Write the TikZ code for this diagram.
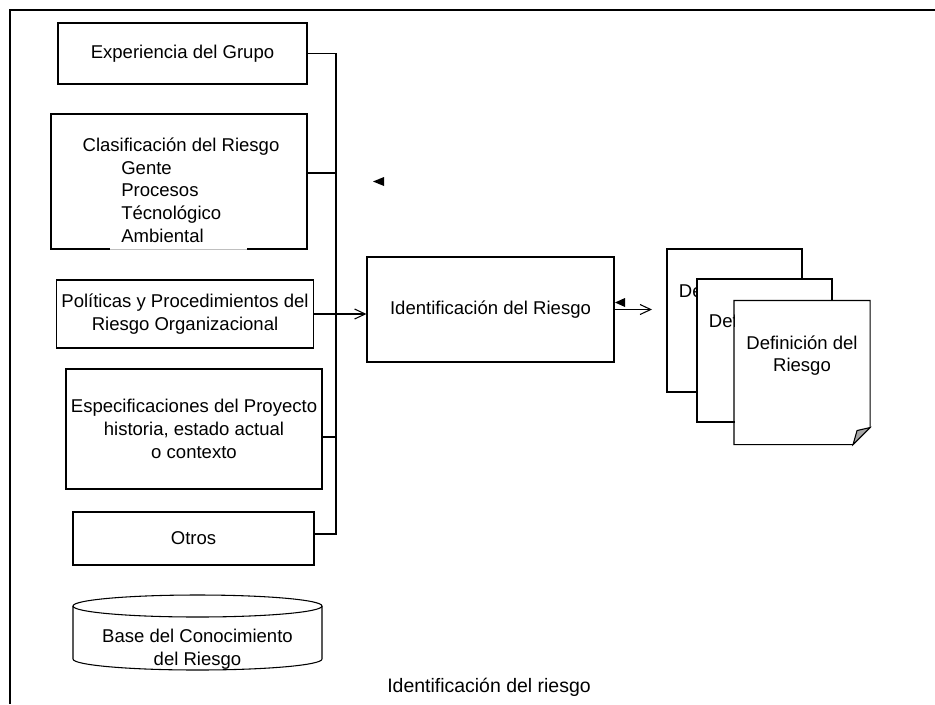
\documentclass[tikz,border=0pt]{standalone}
\usepackage{fontspec}
\setmainfont{Liberation Sans}
\usetikzlibrary{arrows.meta, positioning}
\newdimen\upx \upx=0.75pt
\tikzstyle{source} = [rectangle, draw=black, line width=0.8pt, align=center]
\tikzstyle{process} = [rectangle, draw=black, line width=0.8pt, align=center, minimum width=247*\upx, minimum height=105*\upx]
\tikzstyle{docpage} = [rectangle, draw=black, fill=white, line width=0.8pt, minimum width=135*\upx, minimum height=143*\upx]
\tikzstyle{wire} = [line width=0.8pt]
\tikzstyle{arrow} = [line width=0.8pt, -{Straight Barb[length=8pt,width=7.5pt]}]

\begin{document}
\begin{tikzpicture}[x=0.75pt, y=-0.75pt, font=\fontsize{13.9}{17}\selectfont]
\useasboundingbox (0,0) rectangle (935,704);
% frame, only top and left edge visible
\draw[line width=1.3pt] (935,10) -- (10,10) -- (10,704);

\node (exper) [source, minimum width=249*\upx, minimum height=61*\upx] at (182.5,53.5) {Experiencia del Grupo};

\node (clasif) [source, minimum width=256*\upx, minimum height=135*\upx] at (179,181.5) {};
\node (clasiftxt) [align=left, inner sep=0pt] at (181,190) {Clasificación del Riesgo\\\hspace*{29pt}Gente\\\hspace*{29pt}Procesos\\\hspace*{29pt}Técnológico\\\hspace*{29pt}Ambiental};
\draw[white, line width=1.4pt] (110,249) -- (247,249);
\draw[black!25, line width=0.5pt] (110,249) -- (247,249);

\node (polit) [source, minimum width=256*\upx, minimum height=68*\upx] at (185,314) {Políticas y Procedimientos del\\Riesgo Organizacional};

\node (espec) [source, minimum width=256*\upx, minimum height=120*\upx] at (194,429) {Especificaciones del Proyecto\\historia, estado actual\\o contexto};

\node (otros) [source, minimum width=241*\upx, minimum height=53*\upx] at (193.5,538.5) {Otros};

\node (ident) [process] at (490.5,309.5) {Identificación del Riesgo};

\node (doc1) [docpage, label={[align=center, yshift=12.75pt]center:{Definición del\\Riesgo}}] at (734.5,320.5) {};
\node (doc2) [docpage, label={[align=center, yshift=12.75pt]center:{Definición del\\Riesgo}}] at (764.5,350.5) {};
\node (doc3) [docpage, draw=none, label={[align=center, yshift=12.75pt]center:{Definición del\\Riesgo}}] at (802,372.5) {};
\draw[wire] (doc3.north west) -- (doc3.north east) -- ([yshift=12.75pt]doc3.south east) -- ([xshift=-12.75pt]doc3.south east) -- (doc3.south west) -- cycle;
\filldraw[wire, fill=black!35] ([yshift=12.75pt]doc3.south east) -- ([xshift=-12.75pt]doc3.south east) -- ([xshift=-9.75pt, yshift=10.5pt]doc3.south east) -- cycle;

% knowledge base cylinder
\node (base) [align=center] at (197.5,649) {Base del Conocimiento\\del Riesgo};
\draw[wire] (73,606) -- (73,659) arc[start angle=180, end angle=360, x radius=93.375pt, y radius=8.25pt] -- (322,606);
\draw[wire] (197.5,606) ellipse [x radius=93.375pt, y radius=8.25pt];

\node (caption) [font=\fontsize{14.6}{17}\selectfont] at (489,687) {Identificación del riesgo};

% bus on the left
\coordinate (bus) at (336,0);
\coordinate (clasifout) at ([yshift=6.4pt]clasif.east);
\coordinate (especout) at ([yshift=-6pt]espec.east);
\coordinate (otrosout) at ([yshift=3.4pt]otros.east);
\coordinate (docin) at (652,309.5);

\draw [wire] (exper.east) -| (bus |- otrosout) -- (otrosout);
\draw [wire] (clasifout) -- (clasifout -| bus);
\draw [wire] (especout) -- (especout -| bus);
\draw [arrow] (polit.east) -- (polit.east -| ident.west);
\draw [arrow] (ident.east) -- (docin);

\fill (373,181.5) -- (384,177) -- (384,186) -- cycle;
\fill (615,302.5) -- (625,298) -- (625,307) -- cycle;
\end{tikzpicture}
\end{document}
